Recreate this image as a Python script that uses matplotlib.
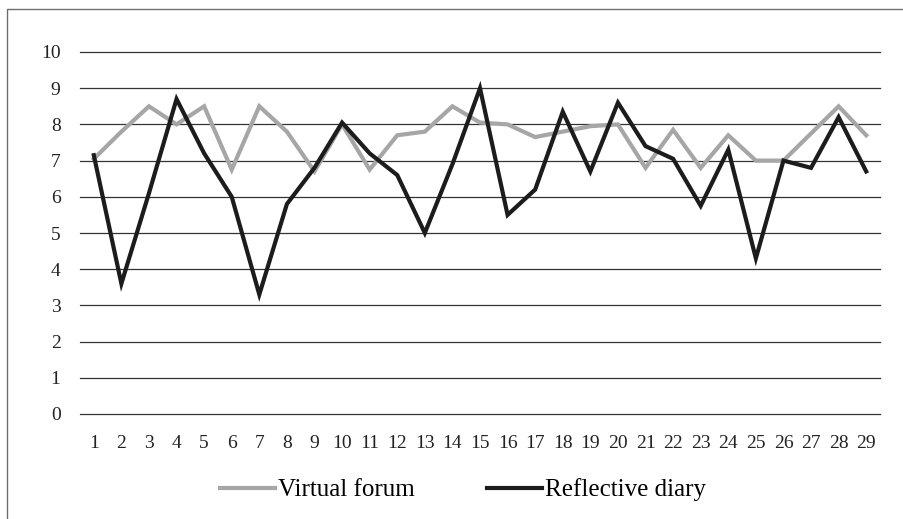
import matplotlib.pyplot as plt
from matplotlib.patches import Rectangle
import numpy as np

# values
sessions = list(range(1, 30))
virtual_forum = [7.05, 7.8, 8.5, 8.0, 8.5, 6.75, 8.5, 7.8, 6.7, 8.0,
                 6.75, 7.7, 7.8, 8.5, 8.05, 8.0, 7.65, 7.8, 7.95, 8.0,
                 6.8, 7.85, 6.8, 7.7, 7.0, 7.0, 7.75, 8.5, 7.7]
reflective_diary = [7.15, 3.6, 6.1, 8.7, 7.2, 6.0, 3.3, 5.8, 6.8, 8.05,
                    7.2, 6.6, 5.0, 6.9, 9.0, 5.5, 6.2, 8.35, 6.7, 8.6,
                    7.4, 7.05, 5.75, 7.3, 4.3, 7.0, 6.8, 8.2, 6.7]
y_ticks = list(range(0, 11))

plt.rcParams['font.family'] = ['Liberation Serif', 'DejaVu Serif']

fig = plt.figure(figsize=(9.04, 5.19), dpi=100)
ax = fig.add_axes([80 / 904, 1 - 414 / 519, 800 / 904, 362 / 519])

# outer frame (clipped on the right and bottom like the reference)
fig.patches.append(Rectangle((7 / 904, -0.2), 1.2, 1.2 - 9 / 519,
                             transform=fig.transFigure, fill=False,
                             edgecolor='#6e6e6e', linewidth=1.0))

ax.plot(sessions, virtual_forum, color='#a6a6a6', linewidth=3.0,
        solid_joinstyle='miter', label='Virtual forum', zorder=3)
ax.plot(sessions, reflective_diary, color='#1c1c1c', linewidth=3.0,
        solid_joinstyle='miter', label='Reflective diary', zorder=4)

ax.set_xlim(0.5, 29.5)
ax.set_ylim(0, 10)
ax.set_xticks(sessions)
ax.set_yticks(y_ticks)
ax.tick_params(axis='both', length=0, labelsize=14, colors='#222222')
ax.tick_params(axis='x', pad=15)
ax.tick_params(axis='y', pad=14)
ax.grid(axis='y', color='#333333', linewidth=0.9)
ax.set_axisbelow(True)
for gl in ax.get_ygridlines():
    gl.set_clip_on(False)
for s in ax.spines.values():
    s.set_visible(False)

fig.legend(loc='center', bbox_to_anchor=(463 / 904, 1 - 490 / 519), ncol=2,
           frameon=False, fontsize=18, handlelength=2.2, handletextpad=0.12,
           columnspacing=2.9)

fig.savefig('out.png', dpi=100)
